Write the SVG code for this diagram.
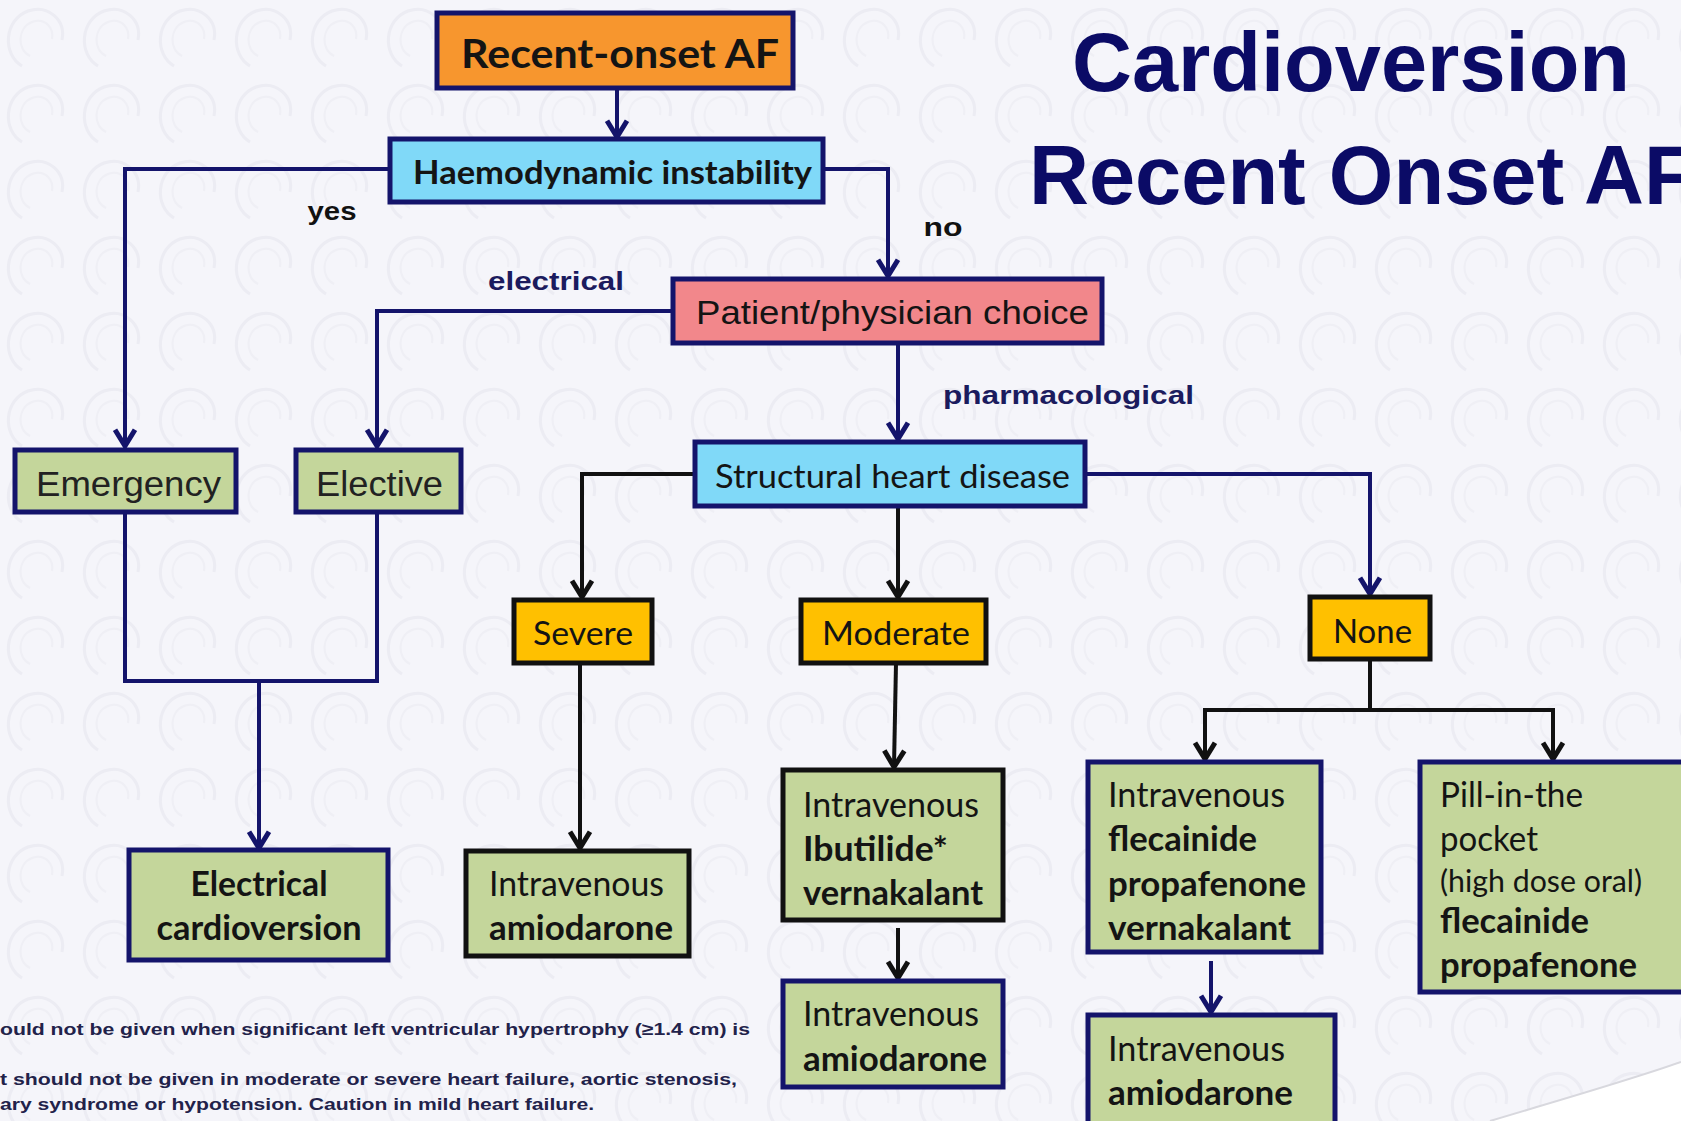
<svg xmlns="http://www.w3.org/2000/svg" width="1681" height="1121" viewBox="0 0 1681 1121">
<defs>
<pattern id="bgp" width="76" height="76" patternUnits="userSpaceOnUse">
<rect width="76" height="76" fill="#F5F5FA"/>
<path d="M22,66 C2,54 4,20 28,11 C48,4 66,20 62,40" fill="none" stroke="#ECECF3" stroke-width="3"/>
<path d="M30,56 C17,50 17,28 32,22 C45,17 54,28 52,39" fill="none" stroke="#EFEFF5" stroke-width="2"/>
</pattern>
<marker id="an" markerWidth="30" markerHeight="30" viewBox="-16 -12 20 24" refX="0" refY="0" orient="auto" markerUnits="userSpaceOnUse">
<path d="M-13,-8 L0,0 L-13,8" fill="none" stroke="#14146B" stroke-width="4" stroke-linejoin="miter"/>
</marker>
<marker id="ab" markerWidth="30" markerHeight="30" viewBox="-16 -12 20 24" refX="0" refY="0" orient="auto" markerUnits="userSpaceOnUse">
<path d="M-13,-8 L0,0 L-13,8" fill="none" stroke="#111111" stroke-width="4" stroke-linejoin="miter"/>
</marker>
</defs>
<style>
.nv{stroke:#14146B;stroke-width:5}
.bk{stroke:#111111;stroke-width:5}
.orange{fill:#F7962E}
.blue{fill:#80D9F8}
.pink{fill:#F2878B}
.green{fill:#C4D69B}
.gold{fill:#FFC000}
.cal{font-family:Lato,"Open Sans","Liberation Sans",sans-serif;fill:#141414}
.ar{font-family:"Liberation Sans",Arial,sans-serif}
.b{font-weight:bold}
.lbl{font-family:"Liberation Sans",Arial,sans-serif;font-weight:bold;fill:#1B1B5E;font-size:26px}
.lblk{fill:#111111}
.cn{fill:none;stroke:#14146B;stroke-width:4}
.cb{fill:none;stroke:#111111;stroke-width:4}
</style>
<rect width="1681" height="1121" fill="url(#bgp)"/>
<path d="M1490,1121 C1560,1100 1630,1080 1681,1062 L1681,1121 Z" fill="#FFFFFF"/>
<path d="M1490,1121 C1560,1100 1630,1080 1681,1062" fill="none" stroke="#D8D8DE" stroke-width="2"/>

<text class="ar b" x="1351" y="91" font-size="83" fill="#0B0B66" text-anchor="middle">Cardioversion</text>
<text class="ar b" x="1029" y="204" font-size="83" fill="#0B0B66">Recent Onset AF</text>

<g id="connectors">
<path class="cn" d="M617,88 V137" marker-end="url(#an)"/>
<path class="cn" d="M390,169 H125 V446" marker-end="url(#an)"/>
<path class="cn" d="M823,169 H888 V276" marker-end="url(#an)"/>
<path class="cn" d="M673,311 H377 V446" marker-end="url(#an)"/>
<path class="cn" d="M898,343 V439" marker-end="url(#an)"/>
<path class="cn" d="M125,512 V681 H377 V512"/>
<path class="cn" d="M259,681 V848" marker-end="url(#an)"/>
<path class="cb" d="M695,474 H582 V597" marker-end="url(#ab)"/>
<path class="cb" d="M898,506 V597" marker-end="url(#ab)"/>
<path class="cn" d="M1085,474 H1370 V594" marker-end="url(#an)"/>
<path class="cb" d="M580,663 V848" marker-end="url(#ab)"/>
<path class="cb" d="M896,663 L894,767" marker-end="url(#ab)"/>
<path class="cb" d="M898,928 V978" marker-end="url(#ab)"/>
<path class="cb" d="M1370,659 V710"/>
<path class="cb" d="M1205,759 V710 H1553 V759" marker-end="url(#ab)"/>
<path class="cb" d="M1205,710 V759" marker-end="url(#ab)"/>
<path class="cn" d="M1211,961 V1012" marker-end="url(#an)"/>
</g>

<text class="lbl lblk" x="332" y="220" text-anchor="middle" textLength="49" lengthAdjust="spacingAndGlyphs">yes</text>
<text class="lbl lblk" x="943" y="236" text-anchor="middle" textLength="39" lengthAdjust="spacingAndGlyphs">no</text>
<text class="lbl" x="488" y="290" textLength="136" lengthAdjust="spacingAndGlyphs">electrical</text>
<text class="lbl" x="943" y="404" textLength="251" lengthAdjust="spacingAndGlyphs">pharmacological</text>

<g id="n-recent">
<rect class="nv orange" x="437" y="13" width="356" height="75"/>
<text class="cal b" x="461" y="68" font-size="40" textLength="318" lengthAdjust="spacingAndGlyphs">Recent-onset AF</text>
</g>
<g id="n-haemo">
<rect class="nv blue" x="390" y="139" width="433" height="63"/>
<text class="cal b" x="413" y="184" font-size="33" textLength="399" lengthAdjust="spacingAndGlyphs">Haemodynamic instability</text>
</g>
<g id="n-patient">
<rect class="nv pink" x="673" y="279" width="429" height="64"/>
<text class="ar" x="696" y="324" font-size="34" fill="#141414" textLength="393" lengthAdjust="spacingAndGlyphs">Patient/physician choice</text>
</g>
<g id="n-emergency">
<rect class="nv green" x="15" y="450" width="221" height="62"/>
<text class="ar" x="36" y="496" font-size="35" fill="#222" textLength="185" lengthAdjust="spacingAndGlyphs">Emergency</text>
</g>
<g id="n-elective">
<rect class="nv green" x="296" y="450" width="165" height="62"/>
<text class="ar" x="316" y="496" font-size="35" fill="#222" textLength="127" lengthAdjust="spacingAndGlyphs">Elective</text>
</g>
<g id="n-structural">
<rect class="nv blue" x="695" y="442" width="390" height="64"/>
<text class="cal" x="715" y="488" font-size="33" textLength="355" lengthAdjust="spacingAndGlyphs">Structural heart disease</text>
</g>
<g id="n-severe">
<rect class="bk gold" x="514" y="600" width="138" height="63"/>
<text class="cal" x="533" y="645" font-size="33" textLength="100" lengthAdjust="spacingAndGlyphs">Severe</text>
</g>
<g id="n-moderate">
<rect class="bk gold" x="801" y="600" width="185" height="63"/>
<text class="cal" x="822" y="645" font-size="33" textLength="148" lengthAdjust="spacingAndGlyphs">Moderate</text>
</g>
<g id="n-none">
<rect class="bk gold" x="1310" y="597" width="120" height="62"/>
<text class="cal" x="1333" y="643" font-size="33" textLength="79" lengthAdjust="spacingAndGlyphs">None</text>
</g>
<g id="n-electrical">
<rect class="nv green" x="129" y="850" width="259" height="110"/>
<text class="cal b" x="259" y="896" font-size="35" text-anchor="middle" textLength="137" lengthAdjust="spacingAndGlyphs">Electrical</text>
<text class="cal b" x="259" y="940" font-size="35" text-anchor="middle" textLength="205" lengthAdjust="spacingAndGlyphs">cardioversion</text>
</g>
<g id="n-severe-amio">
<rect class="bk green" x="466" y="851" width="223" height="105"/>
<text class="cal" x="489" y="896" font-size="35" textLength="175" lengthAdjust="spacingAndGlyphs">Intravenous</text>
<text class="cal b" x="489" y="940" font-size="35" textLength="184" lengthAdjust="spacingAndGlyphs">amiodarone</text>
</g>
<g id="n-moderate-ibu">
<rect class="bk green" x="783" y="770" width="220" height="150"/>
<text class="cal" x="803" y="817" font-size="35" textLength="176" lengthAdjust="spacingAndGlyphs">Intravenous</text>
<text class="cal b" x="803" y="861" font-size="35" textLength="145" lengthAdjust="spacingAndGlyphs">Ibutilide*</text>
<text class="cal b" x="803" y="905" font-size="35" textLength="180" lengthAdjust="spacingAndGlyphs">vernakalant</text>
</g>
<g id="n-moderate-amio">
<rect class="nv green" x="783" y="981" width="220" height="106"/>
<text class="cal" x="803" y="1026" font-size="35" textLength="176" lengthAdjust="spacingAndGlyphs">Intravenous</text>
<text class="cal b" x="803" y="1071" font-size="35" textLength="184" lengthAdjust="spacingAndGlyphs">amiodarone</text>
</g>
<g id="n-flec">
<rect class="nv green" x="1088" y="762" width="233" height="190"/>
<text class="cal" x="1108" y="807" font-size="35" textLength="177" lengthAdjust="spacingAndGlyphs">Intravenous</text>
<text class="cal b" x="1108" y="851" font-size="35" textLength="149" lengthAdjust="spacingAndGlyphs">flecainide</text>
<text class="cal b" x="1108" y="896" font-size="35" textLength="198" lengthAdjust="spacingAndGlyphs">propafenone</text>
<text class="cal b" x="1108" y="940" font-size="35" textLength="183" lengthAdjust="spacingAndGlyphs">vernakalant</text>
</g>
<g id="n-none-amio">
<rect class="nv green" x="1088" y="1015" width="247" height="120"/>
<text class="cal" x="1108" y="1061" font-size="35" textLength="177" lengthAdjust="spacingAndGlyphs">Intravenous</text>
<text class="cal b" x="1108" y="1105" font-size="35" textLength="185" lengthAdjust="spacingAndGlyphs">amiodarone</text>
</g>
<g id="n-pill">
<rect class="nv green" x="1420" y="762" width="270" height="230"/>
<text class="cal" x="1440" y="807" font-size="35" textLength="143" lengthAdjust="spacingAndGlyphs">Pill-in-the</text>
<text class="cal" x="1440" y="851" font-size="35" textLength="98" lengthAdjust="spacingAndGlyphs">pocket</text>
<text class="cal" x="1440" y="892" font-size="30" textLength="202" lengthAdjust="spacingAndGlyphs">(high dose oral)</text>
<text class="cal b" x="1440" y="933" font-size="35" textLength="149" lengthAdjust="spacingAndGlyphs">flecainide</text>
<text class="cal b" x="1440" y="977" font-size="35" textLength="197" lengthAdjust="spacingAndGlyphs">propafenone</text>
</g>

<g id="footnote" font-family="Liberation Sans, Arial, sans-serif" font-weight="bold" font-size="17" fill="#22224A">
<text x="0" y="1035" textLength="750" lengthAdjust="spacingAndGlyphs">ould not be given when significant left ventricular hypertrophy (≥1.4 cm) is</text>
<text x="0" y="1085" textLength="737" lengthAdjust="spacingAndGlyphs">t should not be given in moderate or severe heart failure, aortic stenosis,</text>
<text x="0" y="1110" textLength="594" lengthAdjust="spacingAndGlyphs">ary syndrome or hypotension. Caution in mild heart failure.</text>
</g>
</svg>
